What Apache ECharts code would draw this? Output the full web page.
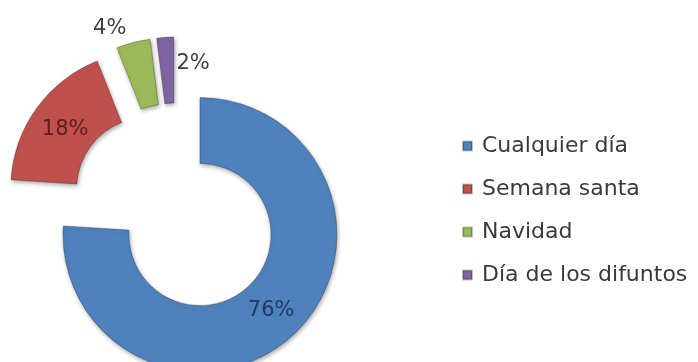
<!DOCTYPE html>
<html>
<head>
<meta charset="utf-8">
<script src="https://cdn.jsdelivr.net/npm/echarts@6/dist/echarts.min.js"></script>
<style>
  html, body { margin: 0; padding: 0; background: #ffffff; }
  #chart { width: 698px; height: 362px; }
</style>
</head>
<body>
<div id="chart"></div>
<script>
const categories = ['Cualquier día', 'Semana santa', 'Navidad', 'Día de los difuntos'];
const values = [76, 18, 4, 2];
const colors = ['#4F81BD', '#C0504D', '#9BBB59', '#8064A2'];
const labelColors = ['#1F3A66', '#5A1E1C', '#404040', '#404040'];
const labelShift = [[-2, -2], [4, 4], [-31, -43], [26, -4]];

const chart = echarts.init(document.getElementById('chart'), null, { renderer: 'canvas' });

const data = categories.map((name, i) => ({
  name: name,
  value: values[i],
  selected: true,
  itemStyle: { color: colors[i] },
  label: { color: labelColors[i] }
}));

chart.setOption({
  animation: false,
  backgroundColor: '#ffffff',
  legend: {
    orient: 'vertical',
    left: 462,
    top: 134,
    padding: 0,
    icon: 'rect',
    itemWidth: 9,
    itemHeight: 9,
    itemGap: 19,
    selectedMode: false,
    formatter: function (name) { return '{g|}' + name; },
    textStyle: {
      fontFamily: 'DejaVu Sans',
      fontSize: 22,
      lineHeight: 24,
      color: '#3a3a3a',
      rich: { g: { width: 5 } }
    },
    data: categories
  },
  series: [{
    type: 'pie',
    center: [176, 209],
    radius: [71, 137],
    startAngle: 90,
    clockwise: true,
    selectedMode: 'multiple',
    selectedOffset: 35,
    avoidLabelOverlap: false,
    emphasis: { disabled: true },
    label: {
      show: true,
      position: 'inside',
      formatter: '{c}%',
      fontFamily: 'DejaVu Sans',
      fontSize: 21
    },
    labelLine: { show: false },
    labelLayout: function (params) {
      const s = labelShift[params.dataIndex];
      return { dx: s[0], dy: s[1] };
    },
    itemStyle: {
      borderColor: 'rgba(0,0,0,0.25)',
      borderWidth: 1,
      shadowBlur: 4,
      shadowColor: 'rgba(0,0,0,0.35)',
      shadowOffsetX: 1,
      shadowOffsetY: 2
    },
    data: data
  }]
});
</script>
</body>
</html>
